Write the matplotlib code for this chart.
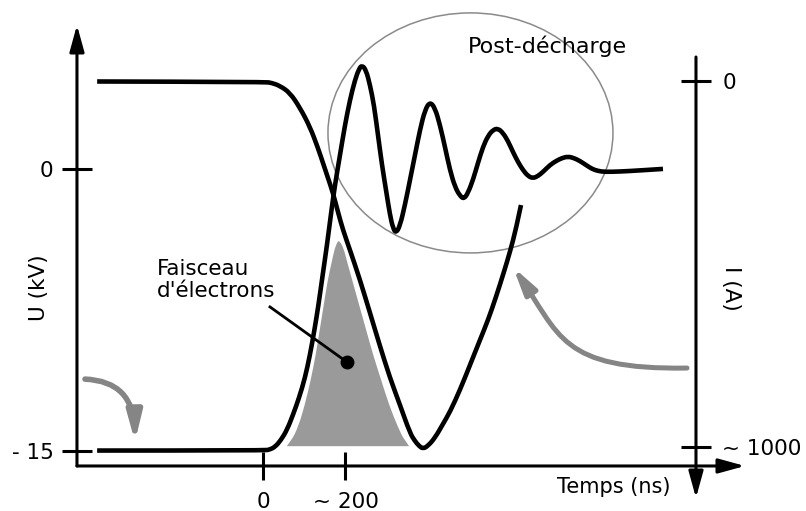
import matplotlib.pyplot as plt
from matplotlib.patches import Ellipse, FancyArrowPatch, PathPatch
from matplotlib.path import Path

# voltage U (kV), left axis, versus time (ns)
u_time = [-402, 4.8, 17.0, 29.1, 43.6, 58.2, 72.7, 87.3, 101.8, 113.9, 124.8, 134.5,
          143.0, 155.2, 166.1, 174.5, 186.7, 198.8, 210.9, 223.0, 232.7, 240.0, 249.7,
          259.4, 269.1, 278.8, 288.5, 298.2, 307.9, 315.2, 322.4, 332.1, 344.2, 356.4,
          368.5, 380.6, 392.7, 404.8, 417.0, 429.1, 441.2, 453.3, 465.5, 477.6, 487.3,
          497.0, 509.1, 521.2, 533.3, 545.5, 557.6, 569.7, 581.8, 593.9, 606.1, 618.2,
          630.3, 642.4, 654.5, 666.7, 678.8, 695.8, 710.3, 724.8, 739.4, 753.9, 768.5,
          783.0, 797.6, 812.1, 829.1, 865.5, 914.0, 969.7]
u_kv = [-15.0, -15.0, -14.94, -14.81, -14.44, -13.90, -13.10, -12.20, -11.13, -9.90, -8.57,
        -7.24, -5.90, -4.04, -2.17, -0.84, 0.76, 2.36, 3.70, 4.76, 5.35, 5.55, 5.30,
        4.50, 3.43, 1.83, 0.23, -1.10, -2.44, -3.13, -3.40, -3.02, -1.90, -0.57,
        0.76, 2.10, 3.16, 3.60, 3.27, 2.36, 1.19, -0.04, -0.94, -1.42, -1.58,
        -1.26, -0.57, 0.34, 1.19, 1.78, 2.10, 2.18, 1.94, 1.51, 0.92, 0.39,
        -0.04, -0.36, -0.48, -0.36, -0.14, 0.23, 0.44, 0.60, 0.68, 0.60, 0.44,
        0.23, 0.02, -0.09, -0.14, -0.12, -0.06, 0.02]

# current I (A), right axis pointing down
i_time = [-402, 5, 21.8, 41.2, 65.5, 89.7, 113.9, 133.3, 145.5, 157.6, 169.7, 181.8,
          193.9, 210.9, 235.2, 259.4, 283.6, 307.9, 332.1, 356.4, 368.5, 378.2, 387.9,
          400.0, 417.0, 436.4, 453.3, 477.6, 501.8, 526.1, 545.5, 564.8, 584.2, 598.8,
          613.3, 625.5]
i_amp = [0, 1, 4, 12, 31, 72, 124, 182, 223, 264, 305, 357,
         406, 461, 543, 633, 724, 811, 885, 962, 984, 997, 1005,
         997, 975, 937, 904, 844, 776, 707, 653, 590, 521, 466,
         404, 338]

# electron beam (shaded), drawn in voltage units
beam_time = [48.5, 65.5, 82.4, 97.0, 111.5, 123.6, 133.3, 143.0, 152.7, 162.4, 169.7,
             177.0, 181.8, 189.1, 198.8, 208.5, 220.6, 237.6, 254.5, 271.5, 290.9,
             310.3, 329.7, 346.7, 363.6]
beam_kv = [-14.86, -14.44, -13.64, -12.57, -11.24, -9.90, -8.57, -7.24, -5.90, -4.94, -4.20,
           -3.82, -3.72, -3.77, -4.14, -4.94, -5.90, -7.24, -8.57, -9.90, -11.24,
           -12.57, -13.64, -14.44, -14.86]

x_ticks = [0, 200]
x_tick_labels = ['0', '~ 200']
u_ticks = [0, -15]
u_tick_labels = ['0', '- 15']
i_ticks = [0, 1000]
i_tick_labels = ['0', '~ 1000']


def smooth_path(xs, ys, closed=False):
    # quadratic bezier through midpoints, read points act as control points
    pts = list(zip(xs, ys))
    verts = [pts[0]]
    codes = [Path.MOVETO]
    for i in range(1, len(pts) - 1):
        if i == len(pts) - 2:
            end = pts[-1]
        else:
            end = ((pts[i][0] + pts[i + 1][0]) / 2, (pts[i][1] + pts[i + 1][1]) / 2)
        verts += [pts[i], end]
        codes += [Path.CURVE3, Path.CURVE3]
    if closed:
        verts.append(pts[0])
        codes.append(Path.CLOSEPOLY)
    return Path(verts, codes)


fig = plt.figure(figsize=(8.06, 5.11), dpi=100)
ax = fig.add_axes([0.0955, 0.0881, 0.8288, 0.8630])
ax.set_xlim(-450.9, 1168.5)
ax.set_ylim(-15.823, 7.696)
ax2 = ax.twinx()
ax2.set_ylim(1052.0, -154.6)

for a in (ax, ax2):
    for s in a.spines.values():
        s.set_visible(False)
ax2.spines['right'].set_position(('data', 1049.7))

# axis lines with arrow heads
axis_arrow = dict(arrowstyle='-|>,head_length=0.8,head_width=0.22', mutation_scale=20,
                  lw=2.2, color='black', shrinkA=0, shrinkB=0)
ax.annotate('', xy=(1, 0), xytext=(0, 0), xycoords='axes fraction', arrowprops=axis_arrow)
ax.annotate('', xy=(0, 1), xytext=(0, 0), xycoords='axes fraction', arrowprops=axis_arrow)
ax2.annotate('', xy=(1049.7, 1139.6), xytext=(1049.7, -67.0), arrowprops=axis_arrow,
             annotation_clip=False)

ax.set_xticks(x_ticks, x_tick_labels)
ax.set_yticks(u_ticks, u_tick_labels)
ax2.set_yticks(i_ticks, i_tick_labels)
ax.tick_params(axis='x', direction='inout', length=20, width=2.2, pad=8.5, labelsize=15.5)
ax.tick_params(axis='y', direction='inout', length=21, width=2.2, pad=6.3, labelsize=15.5)
ax2.tick_params(axis='y', direction='inout', length=21, width=2.2, pad=8.4, labelsize=15.5)

ax.set_xlabel('Temps (ns)', fontsize=15)
ax.xaxis.set_label_coords(0.804, -0.026)
ax.text(-0.0569, 0.4036, 'U (kV)', rotation=90, ha='center', va='center',
        transform=ax.transAxes, fontsize=15.5)
ax.text(0.979, 0.4036, 'I (A)', rotation=-90, ha='center', va='center',
        transform=ax.transAxes, fontsize=15.5)

# beam, curves
ax.add_patch(PathPatch(smooth_path(beam_time, beam_kv, closed=True), facecolor='#9a9a9a',
                       edgecolor='white', lw=2.5, zorder=2))
ax.add_patch(Ellipse((503.0, 1.94), 690.9, 12.8, fill=False, edgecolor='#8a8a8a',
                     lw=1.1, zorder=3, clip_on=False))
ax.add_patch(PathPatch(smooth_path(u_time, u_kv), fill=False, edgecolor='black', lw=3.3,
                       capstyle='butt', joinstyle='round', zorder=4))
ax2.add_patch(PathPatch(smooth_path(i_time, i_amp), fill=False, edgecolor='black', lw=3.3,
                        capstyle='butt', joinstyle='round', zorder=4))

ax.text(689.7, 6.20, 'Post-décharge', ha='center', va='baseline', fontsize=16)
ax.text(-257, -4.77, "Faisceau\nd'électrons", ha='left', va='top', fontsize=15.5,
        linespacing=1.12)
ax.plot([17.0, 203.6], [-7.34, -10.28], color='black', lw=2, marker='o', ms=9,
        markevery=[1], zorder=5)

# grey arrows pointing at each curve
grey = '#858585'
left_path = Path([(-431.5, -11.19), (-312.7, -11.30), (-310.3, -14.53)],
                 [Path.MOVETO, Path.CURVE3, Path.CURVE3])
ax.add_patch(FancyArrowPatch(path=left_path, arrowstyle='-|>,head_length=0.85,head_width=0.22',
                             mutation_scale=20, color=grey, lw=4, zorder=3))
right_path = Path([(1027.9, -10.60), (720.0, -10.70), (720.0, -8.84), (606.1, -5.21)],
                  [Path.MOVETO, Path.CURVE4, Path.CURVE4, Path.CURVE4])
ax.add_patch(FancyArrowPatch(path=right_path, arrowstyle='-|>,head_length=0.8,head_width=0.2',
                             mutation_scale=20, color=grey, lw=3.6, zorder=3))

fig.savefig('out.png', dpi=100)
